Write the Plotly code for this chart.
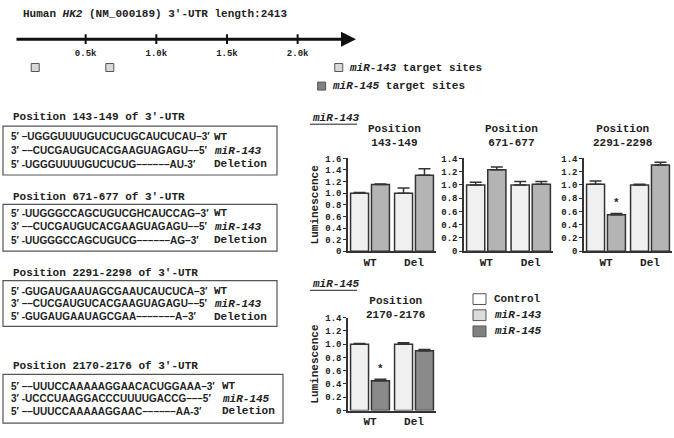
import plotly.graph_objects as go

W, H = 674, 438

# ---- data ----
utr_length = 2413
ruler_ticks = [500, 1000, 1500, 2000]
ruler_labels = ["0.5k", "1.0k", "1.5k", "2.0k"]
mir143_sites = [143, 671, 2291]
mir145_sites = [2170]

groups = ["WT", "Del"]

ctrl_143_149 = [1.00, 1.00]
ctrl_143_149_err = [0.01, 0.09]
mir_143_149 = [1.15, 1.31]
mir_143_149_err = [0.01, 0.11]

ctrl_671_677 = [1.00, 1.00]
ctrl_671_677_err = [0.04, 0.05]
mir_671_677 = [1.23, 1.01]
mir_671_677_err = [0.04, 0.04]

ctrl_2291_2298 = [1.01, 1.00]
ctrl_2291_2298_err = [0.05, 0.01]
mir_2291_2298 = [0.55, 1.30]
mir_2291_2298_err = [0.02, 0.04]

ctrl_2170_2176 = [1.00, 1.00]
ctrl_2170_2176_err = [0.01, 0.02]
mir_2170_2176 = [0.45, 0.90]
mir_2170_2176_err = [0.02, 0.02]

panel_titles = ["Position<br>143-149", "Position<br>671-677",
                "Position<br>2291-2298", "Position<br>2170-2176"]
panel_ymax = [1.6, 1.4, 1.4, 1.4]
significant = {2: "WT", 3: "WT"}   # panel index -> group with asterisk

legend_names = ["Control", "<i>miR-143</i>", "<i>miR-145</i>"]
legend_colors = ["#ffffff", "#dcdcdc", "#808080"]

site_headers = ["Position 143-149 of 3′-UTR", "Position 671-677 of 3′-UTR",
                "Position 2291-2298 of 3′-UTR", "Position 2170-2176 of 3′-UTR"]
site_seqs = [
    ["5′ –UGGGUUUUGUCUCUGCAUCUCAU–3′", "3′ ––CUCGAUGUCACGAAGUAGAGU––5′", "5′ -UGGGUUUUGUCUCUG––––––AU-3′"],
    ["5′ -UUGGGCCAGCUGUCGHCAUCCAG–3′", "3′ ––CUCGAUGUCACGAAGUAGAGU––5′", "5′ -UUGGGCCAGCUGUCG––––––AG–3′"],
    ["5′ -GUGAUGAAUAGCGAAUCAUCUCA–3′", "3′ ––CUCGAUGUCACGAAGUAGAGU––5′", "5′ -GUGAUGAAUAGCGAA–––––––A–3′"],
    ["5′ ––UUUCCAAAAAGGAACACUGGAAA–3′", "3′ -UCCCUAAGGACCCUUUUGACCG–––5′", "5′ ––UUUCCAAAAAGGAAC––––––AA-3′"],
]
site_labels = [
    ["WT", "<i>miR-143</i>", "Deletion"],
    ["WT", "<i>miR-143</i>", "Deletion"],
    ["WT", "<i>miR-143</i>", "Deletion"],
    ["WT", "<i>miR-145</i>", "Deletion"],
]

# ---- styles ----
MONO = "Liberation Mono"
SANS = "Liberation Sans"
INK = "#222222"
CTRL_COL = "#f0f0f0"
M143_COL = "#b4b4b4"
M145_COL = "#8a8a8a"


def px(x):
    return x / W


def py(y):
    return 1 - y / H


fig = go.Figure()

# ---- bar panels ----
panels = [
    dict(ctrl=ctrl_143_149, ctrl_err=ctrl_143_149_err, mir=mir_143_149, mir_err=mir_143_149_err,
         col=M143_COL, xd=(348, 436), yd=(158, 253), tx=394, ty=135),
    dict(ctrl=ctrl_671_677, ctrl_err=ctrl_671_677_err, mir=mir_671_677, mir_err=mir_671_677_err,
         col=M143_COL, xd=(464, 553), yd=(158, 253), tx=511, ty=135),
    dict(ctrl=ctrl_2291_2298, ctrl_err=ctrl_2291_2298_err, mir=mir_2291_2298, mir_err=mir_2291_2298_err,
         col=M143_COL, xd=(584, 672), yd=(158, 253), tx=623, ty=135),
    dict(ctrl=ctrl_2170_2176, ctrl_err=ctrl_2170_2176_err, mir=mir_2170_2176, mir_err=mir_2170_2176_err,
         col=M145_COL, xd=(348, 436), yd=(321, 416), tx=395, ty=311),
]

annotations = []
shapes = []

for i, p in enumerate(panels):
    n = i + 1
    xa, ya = f"x{n}", f"y{n}"
    for vals, err, col in [(p["ctrl"], p["ctrl_err"], CTRL_COL), (p["mir"], p["mir_err"], p["col"])]:
        fig.add_trace(go.Bar(
            x=groups, y=vals, xaxis=xa, yaxis=ya, showlegend=False,
            marker=dict(color=col, line=dict(color="#333333", width=1.5)),
            error_y=dict(type="data", array=err, arrayminus=[0] * len(err), symmetric=False,
                         color="#333333", thickness=1.5, width=6),
        ))
    ymax = panel_ymax[i]
    tv = [round(k * 0.2, 1) for k in range(int(round(ymax / 0.2)) + 1)]
    tt = ["0" if v == 0 else f"{v:.1f}" for v in tv]
    fig.layout[f"xaxis{n}"] = dict(
        domain=[px(p["xd"][0]), px(p["xd"][1])], anchor=ya, showline=True, linecolor="#333333",
        linewidth=1.5, ticks="", showgrid=False, zeroline=False, fixedrange=True,
        tickfont=dict(size=11, family=MONO, color=INK),
    )
    fig.layout[f"yaxis{n}"] = dict(
        domain=[py(p["yd"][1]), py(p["yd"][0])], anchor=xa, range=[0, ymax],
        showline=True, linecolor="#333333", linewidth=1.5, ticks="outside", ticklen=3,
        tickcolor="#333333", tickvals=tv, ticktext=tt, showgrid=False, zeroline=False,
        tickfont=dict(size=9, family=MONO, color=INK),
    )
    if n in (1, 4):
        fig.layout[f"yaxis{n}"].title = dict(text="Luminescence", standoff=4,
                                             font=dict(size=11, family=MONO, color=INK))
    annotations.append(dict(text=panel_titles[i], x=px(p["tx"]), y=py(p["ty"]), xref="paper", yref="paper",
                            showarrow=False, xanchor="center", yanchor="middle",
                            font=dict(size=11, family=MONO, color=INK)))
    if i in significant:
        g = significant[i]
        k = groups.index(g)
        annotations.append(dict(text="*", x=g, y=p["mir"][k] + p["mir_err"][k] + 0.04, xref=xa, yref=ya,
                                xshift=10.5, showarrow=False, yanchor="bottom",
                                font=dict(size=11, family=MONO, color=INK)))

fig.update_layout(barmode="group", bargap=0.05, bargroupgap=0.14)

# miRNA headings with underline
for name, x0, yy in [("miR-143", 310, 117), ("miR-145", 310, 287)]:
    annotations.append(dict(text=f"<i>{name}</i>", x=px(x0), y=py(yy), xref="paper", yref="paper",
                            showarrow=False, xanchor="left", yanchor="middle",
                            font=dict(size=11, family=MONO, color=INK)))
    shapes.append(dict(type="line", xref="paper", yref="paper", x0=px(x0), x1=px(x0 + 47),
                       y0=py(yy + 6), y1=py(yy + 6), line=dict(color=INK, width=1)))

# legend (drawn by hand for tight spacing)
for k, (name, col) in enumerate(zip(legend_names, legend_colors)):
    yc = 302 + k * 16.5
    shapes.append(dict(type="rect", xref="paper", yref="paper", x0=px(473), x1=px(486),
                       y0=py(yc + 5.5), y1=py(yc - 5.5), fillcolor=col,
                       line=dict(color="#555555", width=1)))
    annotations.append(dict(text=name, x=px(492), y=py(yc), xref="paper", yref="paper",
                            xanchor="left", yanchor="middle", showarrow=False,
                            font=dict(size=11, family=MONO, color=INK)))

# ---- ruler ----
ruler_y, label_y, row143, row145 = 59, 44, 30, 11
tx, ty = [], []
for t in ruler_ticks:
    tx += [t, t, None]
    ty += [ruler_y - 5, ruler_y + 5, None]
fig.add_trace(go.Scatter(x=tx, y=ty, mode="lines", xaxis="x5", yaxis="y5", showlegend=False,
                         line=dict(color="#111111", width=2), hoverinfo="skip"))
fig.add_trace(go.Scatter(x=ruler_ticks, y=[label_y] * len(ruler_ticks), text=ruler_labels, mode="text",
                         xaxis="x5", yaxis="y5", showlegend=False,
                         textfont=dict(size=9, family=MONO, color=INK)))
fig.add_trace(go.Scatter(x=mir143_sites, y=[row143] * len(mir143_sites), mode="markers",
                         xaxis="x5", yaxis="y5", showlegend=False,
                         marker=dict(symbol="square", size=8, color="#d9d9d9",
                                     line=dict(color="#555555", width=1))))
fig.add_trace(go.Scatter(x=mir145_sites, y=[row145] * len(mir145_sites), mode="markers",
                         xaxis="x5", yaxis="y5", showlegend=False,
                         marker=dict(symbol="square", size=8, color="#808080",
                                     line=dict(color="#555555", width=1))))
fig.layout.xaxis5 = dict(domain=[px(15), px(356)], range=[0, utr_length], anchor="y5", visible=False)
fig.layout.yaxis5 = dict(domain=[py(95), py(25)], range=[0, 70], anchor="x5", visible=False)

annotations.append(dict(x=utr_length, y=ruler_y, ax=0, ay=ruler_y, xref="x5", yref="y5",
                        axref="x5", ayref="y5", text="", showarrow=True, arrowhead=2,
                        arrowsize=1, arrowwidth=3, arrowcolor="#111111"))
annotations.append(dict(text="<i>miR-143</i> target sites", x=mir143_sites[-1], y=row143, xref="x5", yref="y5",
                        xshift=8, xanchor="left", yanchor="middle", showarrow=False,
                        font=dict(size=11, family=MONO, color=INK)))
annotations.append(dict(text="<i>miR-145</i> target sites", x=mir145_sites[0], y=row145, xref="x5", yref="y5",
                        xshift=8, xanchor="left", yanchor="middle", showarrow=False,
                        font=dict(size=11, family=MONO, color=INK)))
annotations.append(dict(text="Human <i>HK2</i> (NM_000189) 3′-UTR length:2413", x=px(21), y=py(10),
                        xref="paper", yref="paper", xanchor="left", yanchor="middle", showarrow=False,
                        font=dict(size=11, family=MONO, color=INK)))

# ---- sequence boxes ----
boxes = [
    dict(hy=116, y0=125, y1=175, x1=277, lines=[136, 150, 164], lx=212),
    dict(hy=197, y0=205, y1=253, x1=277, lines=[214, 228, 242], lx=212),
    dict(hy=275, y0=283, y1=330, x1=277, lines=[294, 307, 320], lx=212),
    dict(hy=370, y0=379, y1=429, x1=283, lines=[391, 404, 417], lx=220),
]
for b, head, seqs, labs in zip(boxes, site_headers, site_seqs, site_labels):
    annotations.append(dict(text=head, x=px(11), y=py(b["hy"]), xref="paper", yref="paper",
                            xanchor="left", yanchor="middle", showarrow=False,
                            font=dict(size=11, family=MONO, color=INK)))
    shapes.append(dict(type="rect", xref="paper", yref="paper", x0=px(3), x1=px(b["x1"]),
                       y0=py(b["y1"]), y1=py(b["y0"]), line=dict(color="#555555", width=1.2)))
    for s, lab, yy in zip(seqs, labs, b["lines"]):
        annotations.append(dict(text=s, x=px(9), y=py(yy), xref="paper", yref="paper",
                                xanchor="left", yanchor="middle", showarrow=False,
                                font=dict(size=10, family=SANS, color=INK, weight="bold")))
        annotations.append(dict(text=lab, x=px(b["lx"]), y=py(yy), xref="paper", yref="paper",
                                xanchor="left", yanchor="middle", showarrow=False,
                                font=dict(size=11, family=MONO, color=INK)))

fig.update_layout(
    width=W, height=H, margin=dict(l=0, r=0, t=0, b=0),
    paper_bgcolor="white", plot_bgcolor="white",
    font=dict(family=MONO, size=11, color=INK, weight="bold"),
    annotations=annotations, shapes=shapes, showlegend=False,
)

# the page's default 8px body margin would push the fixed-size figure off the window
fig.write_html("out.html", config={"displayModeBar": False},
               post_script="document.body.style.margin = '0';")
